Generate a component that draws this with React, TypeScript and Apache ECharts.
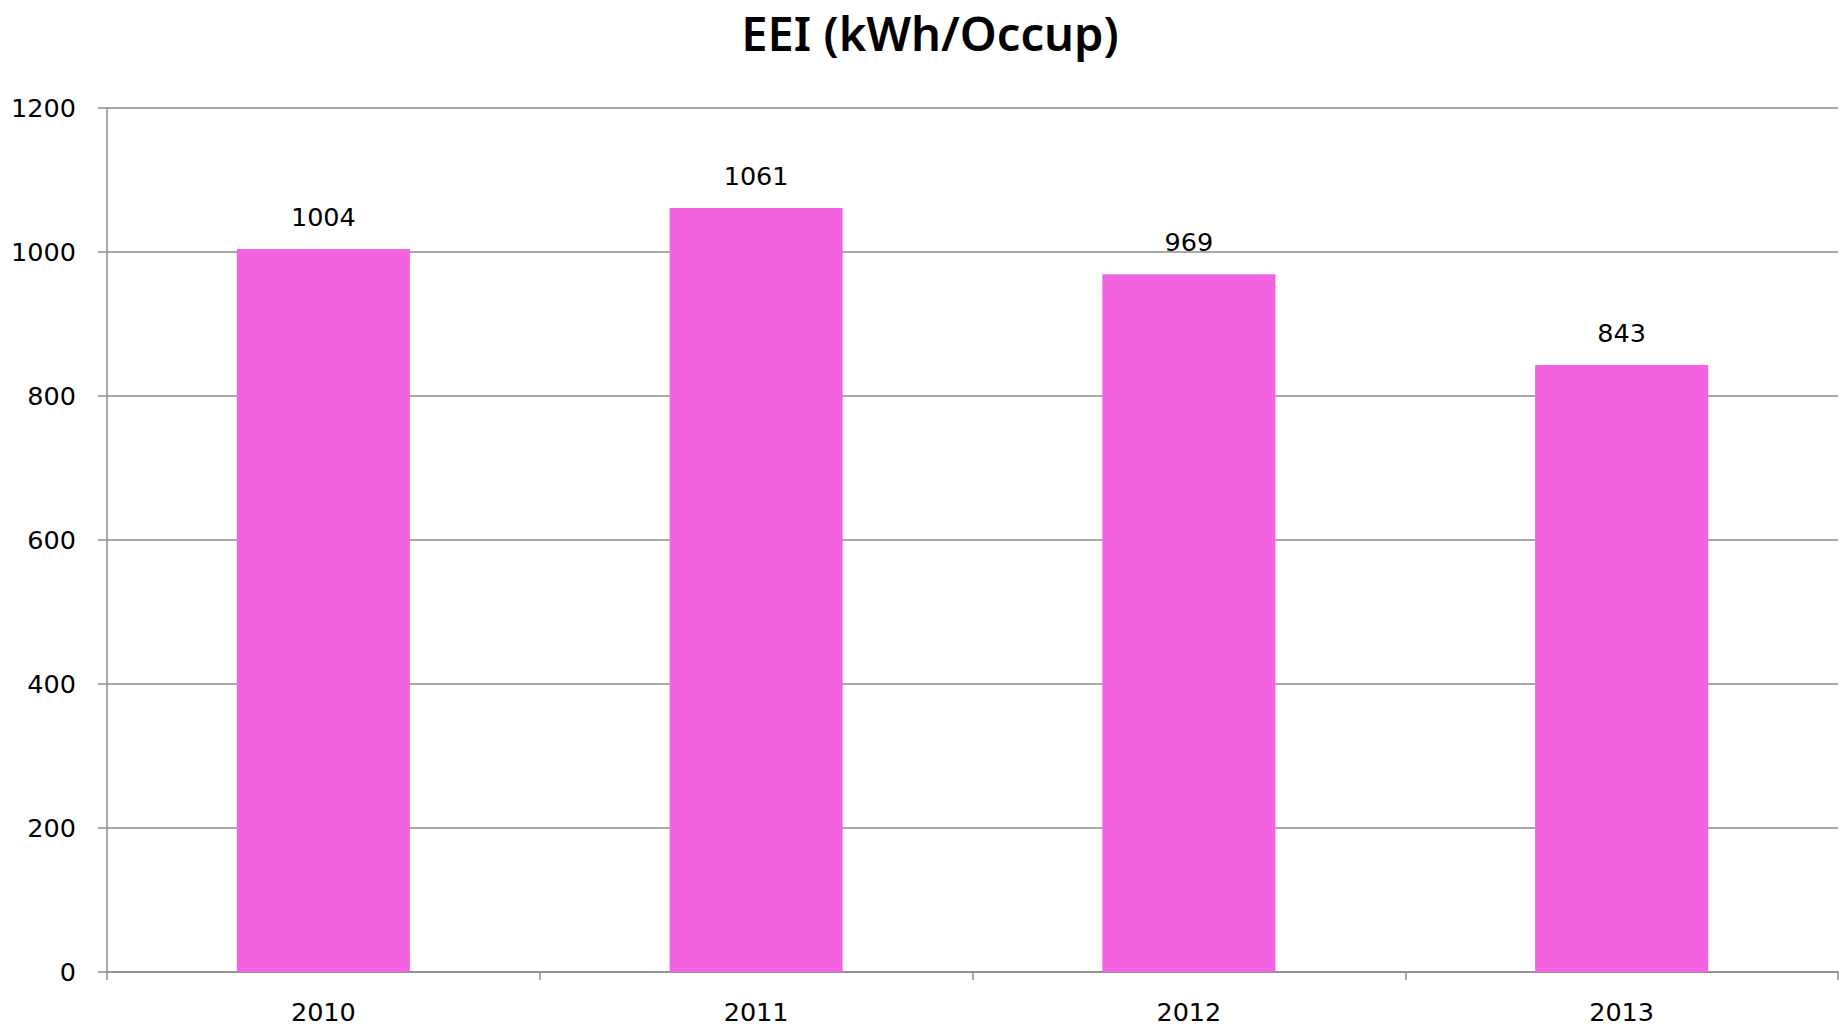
import React, { useEffect, useRef } from "react";
import * as echarts from "echarts";

const categories = ["2010", "2011", "2012", "2013"];
const values = [1004, 1061, 969, 843];
const titleText = "EEI (kWh/Occup)";

export default function App() {
  const ref = useRef<HTMLDivElement>(null);
  useEffect(() => {
    document.body.style.margin = "0";
    const chart = echarts.init(ref.current!, null, { renderer: "svg" });
    const font = "DejaVu Sans";
    chart.setOption({
      animation: false,
      backgroundColor: "#ffffff",
      title: {
        text: titleText,
        left: 925,
        textAlign: "center",
        top: 4,
        textStyle: { fontFamily: "Noto Sans", fontWeight: 600, fontSize: 47, color: "#000" },
      },
      grid: { left: 107, right: 5, top: 108, bottom: 54 },
      xAxis: {
        type: "category",
        data: categories,
        axisLine: { show: true, lineStyle: { color: "#8c8c8c", width: 1.5 } },
        axisTick: { show: true, length: 8, lineStyle: { color: "#8c8c8c", width: 1.5 } },
        axisLabel: { margin: 27, fontSize: 25.5, fontFamily: font, color: "#000" },
      },
      yAxis: {
        type: "value",
        min: 0,
        max: 1200,
        interval: 200,
        axisLine: { show: true, lineStyle: { color: "#8c8c8c", width: 1.5 } },
        axisTick: { show: true, length: 9, lineStyle: { color: "#8c8c8c", width: 1.5 } },
        splitLine: { show: true, lineStyle: { color: "#8c8c8c", width: 1.5 } },
        axisLabel: {
          margin: 31,
          fontSize: 25.5,
          fontFamily: font,
          color: "#000",
          verticalAlign: "middle",
          lineHeight: 25,
          padding: [0, 0, 6, 0],
          formatter: (v: number) => String(v),
        },
      },
      series: [
        {
          type: "bar",
          data: values,
          barWidth: "40%",
          itemStyle: { color: "#F363E1" },
          label: {
            show: true,
            position: "top",
            distance: 19,
            fontSize: 25.5,
            fontFamily: font,
            color: "#000",
          },
        },
      ],
    });
    return () => chart.dispose();
  }, []);
  return <div ref={ref} style={{ width: 1843, height: 1026, position: "absolute", left: 0, top: 0 }} />;
}
